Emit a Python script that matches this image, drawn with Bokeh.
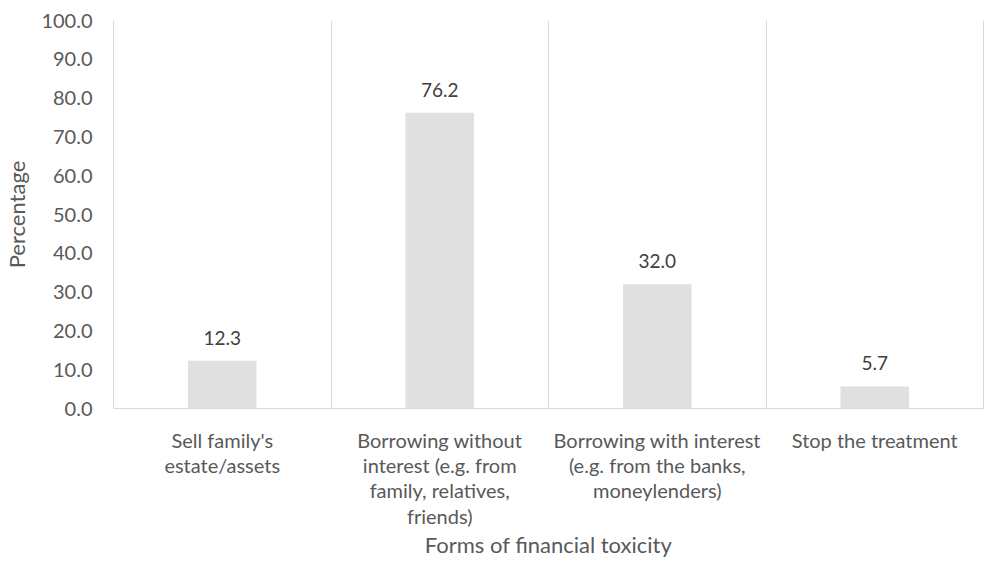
from bokeh.plotting import figure
from bokeh.models import ColumnDataSource, FixedTicker, NumeralTickFormatter, Range1d, LinearAxis
from bokeh.core.properties import value
from bokeh.embed import file_html
from bokeh.resources import INLINE

# categories (wrapped as in the reference)
categories = [
    "Sell family's\nestate/assets",
    "Borrowing without\ninterest (e.g. from\nfamily, relatives,\nfriends)",
    "Borrowing with interest\n(e.g. from the banks,\nmoneylenders)",
    "Stop the treatment",
]
percentages = [12.3, 76.2, 32.0, 5.7]
y_ticks = [0, 10, 20, 30, 40, 50, 60, 70, 80, 90, 100]
boundaries = [1, 2, 3]

FONT = "Lato"
TICK_COLOR = "#595959"
LINE_COLOR = "#d9d9d9"

source = ColumnDataSource(dict(
    cat=categories,
    pct=percentages,
    lbl=[f"{v:.1f}" for v in percentages],
))

p = figure(
    x_range=categories,
    y_range=Range1d(0, 100),
    width=986, height=564,
    output_backend="svg",
    toolbar_location=None,
    min_border_left=113, min_border_right=3,
    min_border_top=20, min_border_bottom=156,
)
p.x_range.range_padding = 0
p.outline_line_color = None
p.background_fill_color = "white"
p.border_fill_color = "white"

p.vbar(x="cat", top="pct", width=0.315, source=source,
       fill_color="#e0e0e0", line_color=None)
p.text(x="cat", y="pct", text="lbl", source=source,
       text_align="center", text_baseline="middle", y_offset=-23,
       text_font=value(FONT), text_font_size="19px", text_color="#404040")

# grids
p.ygrid.grid_line_color = None
p.xgrid.ticker = FixedTicker(ticks=boundaries)
p.xgrid.grid_line_color = LINE_COLOR
p.xgrid.grid_line_width = 1

# y axis (its line acts as the left boundary line)
p.yaxis.ticker = FixedTicker(ticks=y_ticks)
p.yaxis.formatter = NumeralTickFormatter(format="0.0")
p.yaxis.axis_line_color = LINE_COLOR
p.yaxis.major_tick_line_color = None
p.yaxis.minor_tick_line_color = None
p.yaxis.major_label_standoff = 15
p.yaxis.axis_label = "Percentage"
p.yaxis.axis_label_standoff = 8

# right boundary line
right = LinearAxis(ticker=FixedTicker(ticks=[]), axis_line_color=LINE_COLOR,
                   major_tick_line_color=None, minor_tick_line_color=None,
                   major_label_text_font_size="0px", major_label_standoff=0)
p.add_layout(right, "right")

# x axis
p.xaxis.axis_line_color = LINE_COLOR
p.xaxis.major_tick_line_color = None
p.xaxis.minor_tick_line_color = None
p.xaxis.major_label_standoff = 13
p.xaxis.major_label_text_line_height = 1.06
p.xaxis.axis_label = "Forms of financial toxicity"
p.xaxis.axis_label_standoff = 0

for ax in (p.below[0], p.left[0]):
    ax.major_label_text_font = FONT
    ax.major_label_text_font_size = "20px"
    ax.major_label_text_color = TICK_COLOR
    ax.axis_label_text_font = FONT
    ax.axis_label_text_font_size = "22px"
    ax.axis_label_text_font_style = "normal"
    ax.axis_label_text_color = TICK_COLOR

open("out.html", "w").write(file_html(p, INLINE))
